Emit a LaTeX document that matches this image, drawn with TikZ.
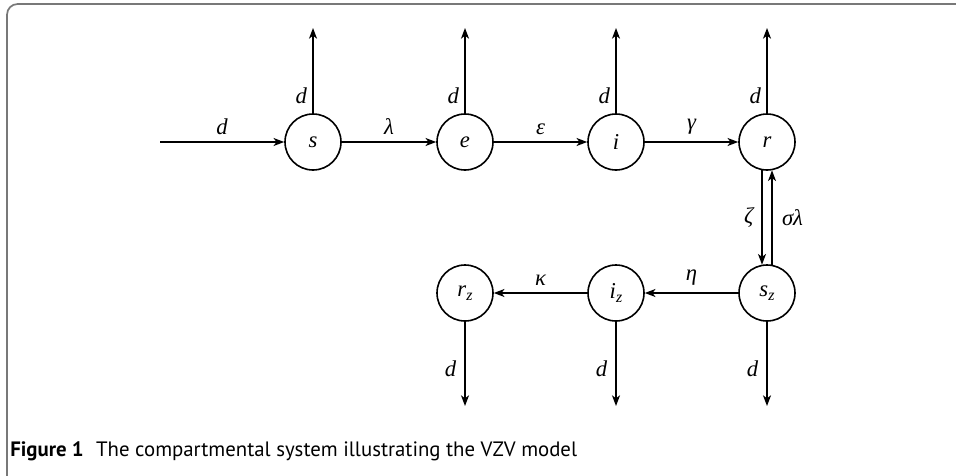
\documentclass[tikz,border=0pt]{standalone}
\usepackage{fontspec}
\setmainfont{Liberation Serif}
\newfontfamily\capfont{PT Sans}
\usetikzlibrary{arrows.meta}
\definecolor{framegray}{RGB}{120,120,120}
\begin{document}
\begin{tikzpicture}[x=0.75pt,y=-0.75pt,
  comp/.style={draw,circle,line width=1.2pt,minimum size=42pt,inner sep=0pt,font=\fontsize{17}{19}\selectfont\itshape},
  flow/.style={line width=1.05pt,-{Stealth[length=8pt,width=6pt,inset=2.2pt]}},
  lab/.style={font=\fontsize{17}{19}\selectfont\itshape,inner sep=2pt}]
\useasboundingbox (0,0) rectangle (956,475);
\begin{scope}
\clip (0,0) rectangle (956,475);
\draw[framegray,line width=1.3pt,rounded corners=8pt] (7,4) rectangle (990,490);
\end{scope}
% top row
\node[comp] (s) at (313,142) {s};
\node[comp] (e) at (465,142) {e};
\node[comp] (i) at (616,142) {i};
\node[comp] (r) at (767,142) {r};
% bottom row
\node[comp] (sz) at (767,293) {s\raisebox{-0.35ex}{\fontsize{12}{14}\selectfont z}};
\node[comp] (iz) at (616,293) {i\raisebox{-0.35ex}{\fontsize{12}{14}\selectfont z}};
\node[comp] (rz) at (465,293) {r\raisebox{-0.35ex}{\fontsize{12}{14}\selectfont z}};
% free ends
\coordinate (in) at (160,142);
\coordinate (ts) at (313,28);
\coordinate (te) at (465,28);
\coordinate (ti) at (616,28);
\coordinate (tr) at (767,28);
\coordinate (bsz) at (767,406);
\coordinate (biz) at (616,406);
\coordinate (brz) at (465,406);
% horizontal flows
\draw[flow] (in) -- node[lab,above=3pt] {d} (s);
\draw[flow] (s) -- node[lab,above=3pt] {λ} (e);
\draw[flow] (e) -- node[lab,above=3pt] {ε} (i);
\draw[flow] (i) -- node[lab,above=3pt] {γ} (r);
\draw[flow] (sz) -- node[lab,above=3pt] {η} (iz);
\draw[flow] (iz) -- node[lab,above=3pt] {κ} (rz);
% vertical pair
\draw[flow] (r.260) -- node[lab,left=4pt] {ζ} (sz.100);
\draw[flow] (sz.80) -- node[lab,right=5pt] {σλ} (r.280);
% death flows top
\foreach \n/\t in {s/ts,e/te,i/ti,r/tr}
  \draw[flow] (\n) -- node[lab,left=2pt,pos=0.2] {d} (\t);
% death flows bottom
\foreach \n/\t in {sz/bsz,iz/biz,rz/brz}
  \draw[flow] (\n) -- node[lab,left=4pt,pos=0.56] {d} (\t);
% caption
\node[anchor=base west,inner sep=0pt,font=\capfont\fontsize{15.6}{17}\selectfont] (cap) at (10,456)
  {\textbf{Figure 1}\hspace{0.6em}The compartmental system illustrating the VZV model};
\end{tikzpicture}
\end{document}
